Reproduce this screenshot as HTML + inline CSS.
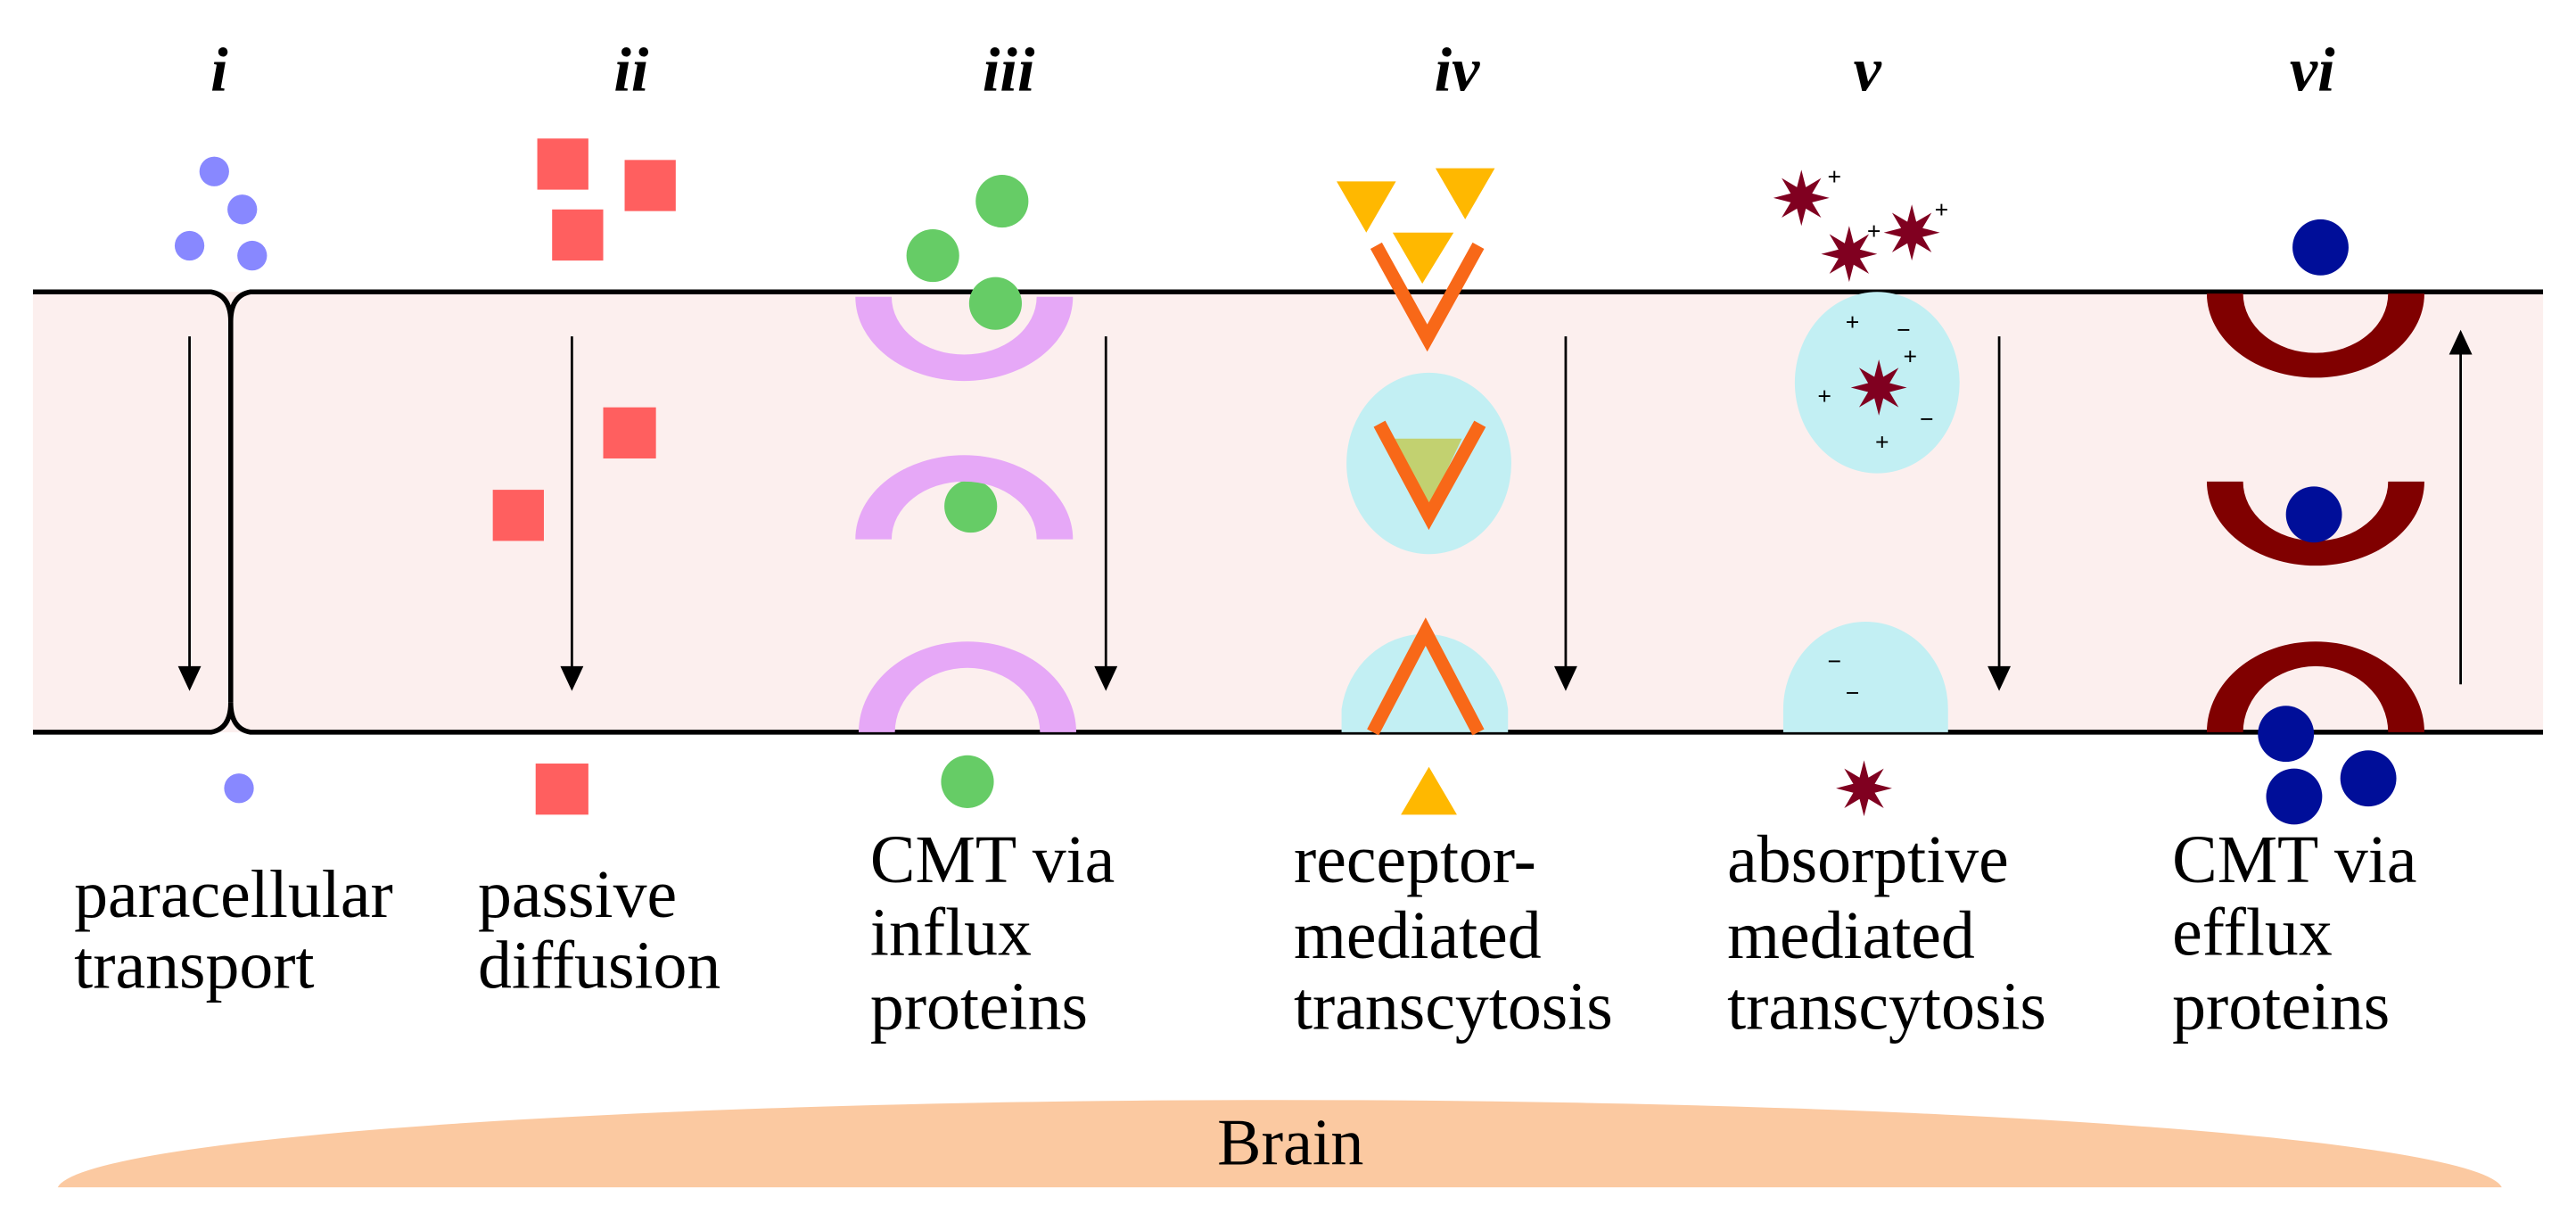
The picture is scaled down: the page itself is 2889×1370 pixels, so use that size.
<!DOCTYPE html>
<html><head><meta charset="utf-8"><style>
html,body{margin:0;padding:0;background:#fff;}
svg{display:block;}
text{font-family:"Liberation Serif",serif;fill:#000;}
</style></head><body>
<svg width="2889" height="1370" viewBox="0 0 1563 741" preserveAspectRatio="none" xmlns="http://www.w3.org/2000/svg">
<defs>
<path id="st" d="M0,-17 L2.7,-6.5 L12,-12 L6.5,-2.7 L17,0 L6.5,2.7 L12,12 L2.7,6.5 L0,17 L-2.7,6.5 L-12,12 L-6.5,2.7 L-17,0 L-6.5,-2.7 L-12,-12 L-2.7,-6.5 Z" fill="#800020"/>
</defs>
<rect x="20" y="177" width="1523" height="267" fill="#fcefee"/>
<path d="M35,720 A742,55 0 0 1 1518,720 Z" fill="#fbc9a1"/>
<text x="783" y="706" font-size="40" text-anchor="middle">Brain</text>

<g stroke="#000" stroke-width="3" fill="none">
<path d="M20,177 L128,177 Q140,179 140,195 Q140,179 152,177 L1543,177"/>
<path d="M20,444 L128,444 Q140,442 140,426 Q140,442 152,444 L1543,444"/>
<path d="M140,195 L140,426"/>
</g>
<g stroke="#000" stroke-width="1.5">
<line x1="115" y1="204" x2="115" y2="408"/>
<line x1="347" y1="204" x2="347" y2="408"/>
<line x1="671" y1="204" x2="671" y2="408"/>
<line x1="950" y1="204" x2="950" y2="408"/>
<line x1="1213" y1="204" x2="1213" y2="408"/>
<line x1="1493" y1="415" x2="1493" y2="212"/>
</g>
<g fill="#000">
<path d="M108,404 L122,404 L115,419 Z"/>
<path d="M340,404 L354,404 L347,419 Z"/>
<path d="M664,404 L678,404 L671,419 Z"/>
<path d="M943,404 L957,404 L950,419 Z"/>
<path d="M1206,404 L1220,404 L1213,419 Z"/>
<path d="M1486,215 L1500,215 L1493,200 Z"/>
</g>

<g fill="#8888ff">
<circle cx="130" cy="104" r="9"/><circle cx="147" cy="127" r="9"/><circle cx="115" cy="149" r="9"/><circle cx="153" cy="155" r="9"/><circle cx="145" cy="478" r="9"/>
</g>
<g fill="#ff5f5f">
<rect x="326" y="84" width="31" height="31"/><rect x="379" y="97" width="31" height="31"/><rect x="335" y="127" width="31" height="31"/>
<rect x="366" y="247" width="32" height="31"/><rect x="299" y="297" width="31" height="31"/><rect x="325" y="463" width="32" height="31"/>
</g>
<g fill="#66cc66">
<circle cx="608" cy="122" r="16"/><circle cx="566" cy="155" r="16"/><circle cx="604" cy="184" r="16"/><circle cx="589" cy="307" r="16"/><circle cx="587" cy="474" r="16"/>
</g>
<g fill="#e6a8f7">
<path d="M519,180 A66,51 0 0 0 651,180 L629,180 A44,35 0 0 1 541,180 Z"/>
<path d="M519,327 A66,51 0 0 1 651,327 L629,327 A44,35 0 0 0 541,327 Z"/>
<path d="M521,444 A66,55 0 0 1 653,444 L631,444 A44,39 0 0 0 543,444 Z"/>
</g>
<g fill="#ffb800">
<path d="M811,110 L847,110 L829,141 Z"/><path d="M871,102 L907,102 L889,133 Z"/><path d="M845,141 L882,141 L863,172 Z"/>
<path d="M850,494 L884,494 L867,465 Z"/>
</g>
<ellipse cx="867" cy="281" rx="50" ry="55" fill="#c2eff3"/>
<path d="M814,444 L814,430 A51,53 0 0 1 915,430 L915,444 Z" fill="#c2eff3"/>
<path d="M846,266 L887,266 L866,310 Z" fill="#c2d170"/>
<g stroke="#f86818" stroke-width="8" fill="none">
<path d="M835,149 L866,205 L897,149"/>
<path d="M837,257 L867,313 L898,257"/>
<path d="M833,444 L865,383 L897,444"/>
</g>
<ellipse cx="1139" cy="232" rx="50" ry="55" fill="#c2eff3"/>
<path d="M1082,444 L1082,430 A50,53 0 0 1 1182,430 L1182,444 Z" fill="#c2eff3"/>
<use href="#st" x="1093" y="120"/><use href="#st" x="1122" y="154"/><use href="#st" x="1160" y="141"/>
<use href="#st" x="1140" y="235"/><use href="#st" x="1131" y="478"/>
<g font-size="15" text-anchor="middle" font-family="Liberation Sans,sans-serif" font-weight="bold">
<text x="1113" y="112">+</text><text x="1137" y="145">+</text><text x="1178" y="132">+</text>
<text x="1124" y="200">+</text><text x="1155" y="205">−</text><text x="1159" y="221">+</text><text x="1107" y="245">+</text><text x="1169" y="259">−</text><text x="1142" y="273">+</text>
<text x="1113" y="406">−</text><text x="1124" y="425">−</text>
</g>
<g fill="#800000">
<path d="M1339,178 A66,51 0 0 0 1471,178 L1449,178 A44,36 0 0 1 1361,178 Z"/>
<path d="M1339,292 A66,51 0 0 0 1471,292 L1449,292 A44,36 0 0 1 1361,292 Z"/>
<path d="M1339,444 A66,55 0 0 1 1471,444 L1449,444 A44,40 0 0 0 1361,444 Z"/>
</g>
<g fill="#000e99">
<circle cx="1408" cy="150" r="17"/><circle cx="1404" cy="312" r="17"/>
<circle cx="1387" cy="445" r="17"/><circle cx="1392" cy="483" r="17"/><circle cx="1437" cy="472" r="17"/>
</g>

<g font-size="38" font-weight="bold" font-style="italic" text-anchor="middle">
<text x="133" y="55">i</text><text x="383" y="55">ii</text><text x="612" y="55">iii</text><text x="884" y="55">iv</text><text x="1133" y="55">v</text><text x="1403" y="55">vi</text>
</g>
<g font-size="41">
<text x="45" y="556">paracellular</text><text x="45" y="599">transport</text>
<text x="290" y="556">passive</text><text x="290" y="599">diffusion</text>
<text x="528" y="535">CMT via</text><text x="528" y="579">influx</text><text x="528" y="624">proteins</text>
<text x="785" y="535">receptor-</text><text x="785" y="581">mediated</text><text x="785" y="624">transcytosis</text>
<text x="1048" y="535">absorptive</text><text x="1048" y="581">mediated</text><text x="1048" y="624">transcytosis</text>
<text x="1318" y="535">CMT via</text><text x="1318" y="579">efflux</text><text x="1318" y="624">proteins</text>
</g>
</svg>
</body></html>
